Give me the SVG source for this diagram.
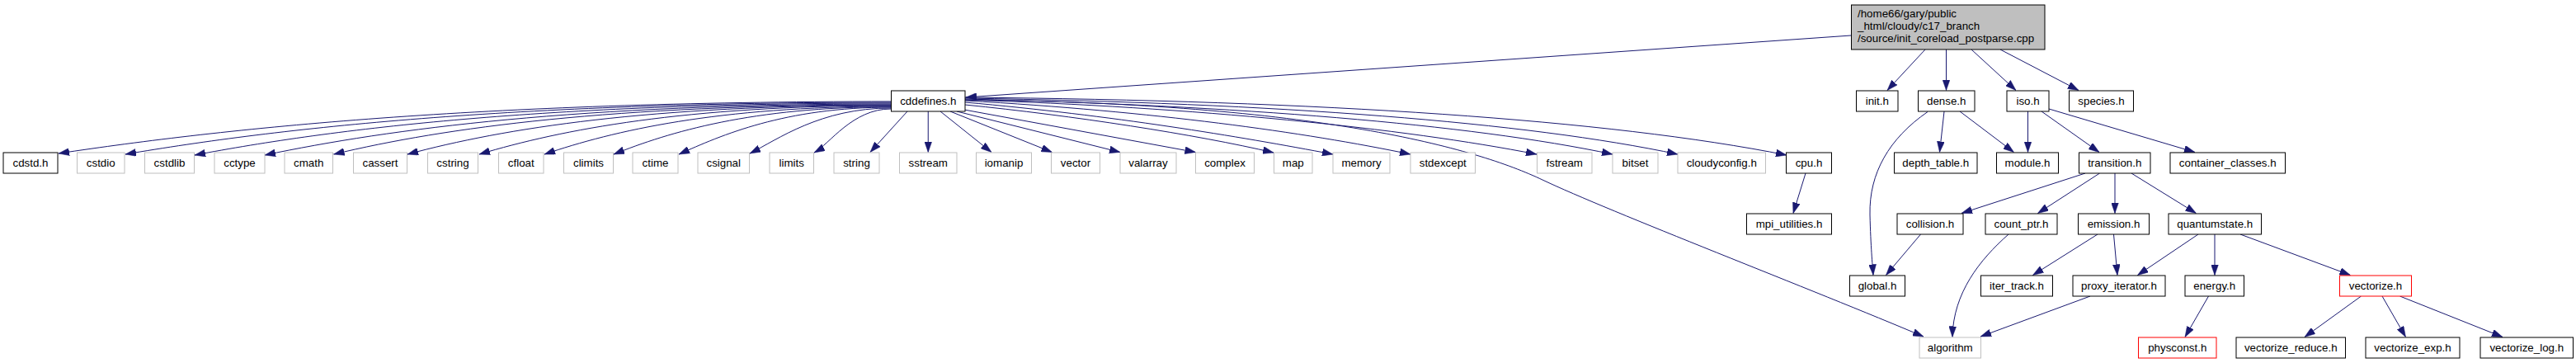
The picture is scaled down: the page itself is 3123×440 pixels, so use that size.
<svg xmlns="http://www.w3.org/2000/svg" width="3123" height="440" viewBox="0 0 3123 440">
<style>
rect{fill:#fff;stroke:#000;stroke-width:1}
.g rect{stroke:#bfbfbf}
.r rect{stroke:#ff0000}
.root rect{fill:#bfbfbf}
text{font-family:"Liberation Sans",Arial,sans-serif;font-size:13.33px;text-anchor:middle;fill:#000}
.root text{text-anchor:start}
#edges path{fill:none;stroke:#191970;stroke-width:1;marker-end:url(#a)}
</style>
<defs>
<marker id="a" markerUnits="userSpaceOnUse" viewBox="0 0 13 9" markerWidth="13" markerHeight="9" refX="13" refY="4.5" orient="auto">
<path d="M0,0 L13,4.5 L0,9 z" fill="#191970" stroke="#191970" stroke-width="0.5"/>
</marker>
</defs>
<rect x="0" y="0" width="3123" height="440" style="fill:#fff;stroke:none"/>
<g id="edges">
<path d="M2244,43 L1171,118"/>
<path d="M2334,60 L2288,109.5"/>
<path d="M2359.5,60 L2359.5,109.5"/>
<path d="M2390,60 L2444,109.5"/>
<path d="M2425,60 L2520,109.5"/>
<path d="M1080,123 C575.5,123 272.8,155.7 71,186"/>
<path d="M1080,124 C616,124 337.6,155.4 152,187"/>
<path d="M1080,125 C658,125 404.8,155.9 236,188"/>
<path d="M1080,126 C700.5,126 472.8,156.1 321,188"/>
<path d="M1080,127 C742,127 539.6,154.6 404.5,187"/>
<path d="M1080,127.5 C787,127.5 611.2,155.4 494,187"/>
<path d="M1080,128 C830.5,128 680.8,157.1 581,187"/>
<path d="M1080,129 C870,129 744,158.4 660,187"/>
<path d="M1080,129.5 C912,129.5 811.2,160.1 744,187"/>
<path d="M1080,130 C951.5,130 874.4,163.9 823,187"/>
<path d="M1080,131 C994.5,131 943.2,168.9 909,186"/>
<path d="M1080,132 C1033.5,132 1005.6,174.8 987,185"/>
<path d="M1100,135 L1055,184.5"/>
<path d="M1125.25,135 L1125.25,184.5"/>
<path d="M1140,135 L1202,184.5"/>
<path d="M1152,135 L1275.5,184.5"/>
<path d="M1160,135 L1358,184.5"/>
<path d="M1169,133 L1449.5,184.5"/>
<path d="M1170,127 C1300,140 1450,163 1544,185"/>
<path d="M1170,124 C1350,140 1500,165 1616,187"/>
<path d="M1170,122 C1400,135 1580,160 1710,187"/>
<path d="M1170,121 C1450,130 1700,155 1863,187"/>
<path d="M1170,120 C1500,128 1780,150 1955,187"/>
<path d="M1170,119 C1550,125 1850,148 2034,187"/>
<path d="M1170,118 C1600,122 1950,145 2166,188"/>
<path d="M1170,121 C1600,125 1790,180 1870,218 C1950,256 2200,352 2332,408"/>
<path d="M2357,135 L2351.5,184.5"/>
<path d="M2376,135 L2441.5,184.5"/>
<path d="M2337,135.5 C2290,168 2266,210 2267,260 C2268,300 2270,320 2271,333.5"/>
<path d="M2458.5,135 L2458.5,184.5"/>
<path d="M2475,135 L2545,184.5"/>
<path d="M2484,132 L2661,184.5"/>
<path d="M2189,210 L2174,258.5"/>
<path d="M2528,210 L2378,258.5"/>
<path d="M2545.5,210 L2470.5,258.5"/>
<path d="M2564,210 L2564,258.5"/>
<path d="M2584,210 L2662.5,258.5"/>
<path d="M2328.5,284 L2286.5,333.5"/>
<path d="M2435,284 C2400,315 2368,355 2367,408.5"/>
<path d="M2543,284 L2464.5,333.5"/>
<path d="M2562.5,284 L2567,333.5"/>
<path d="M2665,284 L2591.5,333.5"/>
<path d="M2685,284 L2685,333.5"/>
<path d="M2716,284 L2849.5,333.5"/>
<path d="M2534,359 L2401,408"/>
<path d="M2677.5,359 L2649,408.5"/>
<path d="M2862.5,359 L2794,408.5"/>
<path d="M2888,359 L2916.5,408.5"/>
<path d="M2909.5,359 L3034,408.5"/>
</g>
<g id="root" class="root"><rect x="2244.5" y="6" width="234.5" height="54"/><text x="2252" y="21">/home66/gary/public</text><text x="2252" y="36">_html/cloudy/c17_branch</text><text x="2252" y="51">/source/init_coreload_postparse.cpp</text></g>
<g id="cddefines"><rect x="1080.5" y="110" width="89.5" height="25"/><text x="1125.25" y="127">cddefines.h</text></g>
<g id="init"><rect x="2250.5" y="110" width="50.5" height="25"/><text x="2275.75" y="127">init.h</text></g>
<g id="dense"><rect x="2325.5" y="110" width="68.5" height="25"/><text x="2359.75" y="127">dense.h</text></g>
<g id="iso"><rect x="2433" y="110" width="51" height="25"/><text x="2458.5" y="127">iso.h</text></g>
<g id="species"><rect x="2508.5" y="110" width="78" height="25"/><text x="2547.5" y="127">species.h</text></g>
<g id="cdstd"><rect x="4" y="185" width="66" height="25"/><text x="37" y="202">cdstd.h</text></g>
<g id="cstdio" class="g"><rect x="93.5" y="185" width="57.5" height="25"/><text x="122.25" y="202">cstdio</text></g>
<g id="cstdlib" class="g"><rect x="175.5" y="185" width="60" height="25"/><text x="205.5" y="202">cstdlib</text></g>
<g id="cctype" class="g"><rect x="260" y="185" width="61" height="25"/><text x="290.5" y="202">cctype</text></g>
<g id="cmath" class="g"><rect x="345" y="185" width="58.5" height="25"/><text x="374.25" y="202">cmath</text></g>
<g id="cassert" class="g"><rect x="428.5" y="185" width="65" height="25"/><text x="461" y="202">cassert</text></g>
<g id="cstring" class="g"><rect x="518.5" y="185" width="61" height="25"/><text x="549" y="202">cstring</text></g>
<g id="cfloat" class="g"><rect x="604.5" y="185" width="54.5" height="25"/><text x="631.75" y="202">cfloat</text></g>
<g id="climits" class="g"><rect x="683.5" y="185" width="60" height="25"/><text x="713.5" y="202">climits</text></g>
<g id="ctime" class="g"><rect x="767" y="185" width="55" height="25"/><text x="794.5" y="202">ctime</text></g>
<g id="csignal" class="g"><rect x="846" y="185" width="62.5" height="25"/><text x="877.25" y="202">csignal</text></g>
<g id="limits" class="g"><rect x="933" y="185" width="53.5" height="25"/><text x="959.75" y="202">limits</text></g>
<g id="string" class="g"><rect x="1011" y="185" width="55" height="25"/><text x="1038.5" y="202">string</text></g>
<g id="sstream" class="g"><rect x="1090.5" y="185" width="69.5" height="25"/><text x="1125.25" y="202">sstream</text></g>
<g id="iomanip" class="g"><rect x="1183.5" y="185" width="67" height="25"/><text x="1217" y="202">iomanip</text></g>
<g id="vector" class="g"><rect x="1274.5" y="185" width="59" height="25"/><text x="1304" y="202">vector</text></g>
<g id="valarray" class="g"><rect x="1358" y="185" width="68" height="25"/><text x="1392" y="202">valarray</text></g>
<g id="complex" class="g"><rect x="1449.5" y="185" width="71" height="25"/><text x="1485" y="202">complex</text></g>
<g id="map" class="g"><rect x="1544.5" y="185" width="46.5" height="25"/><text x="1567.75" y="202">map</text></g>
<g id="memory" class="g"><rect x="1616" y="185" width="69" height="25"/><text x="1650.5" y="202">memory</text></g>
<g id="stdexcept" class="g"><rect x="1710" y="185" width="78.5" height="25"/><text x="1749.25" y="202">stdexcept</text></g>
<g id="fstream" class="g"><rect x="1863.5" y="185" width="66.5" height="25"/><text x="1896.75" y="202">fstream</text></g>
<g id="bitset" class="g"><rect x="1955" y="185" width="55" height="25"/><text x="1982.5" y="202">bitset</text></g>
<g id="cloudyconfig" class="g"><rect x="2034" y="185" width="106.5" height="25"/><text x="2087.25" y="202">cloudyconfig.h</text></g>
<g id="cpu"><rect x="2165.5" y="185" width="55" height="25"/><text x="2193" y="202">cpu.h</text></g>
<g id="depth_table"><rect x="2296.5" y="185" width="100.5" height="25"/><text x="2346.75" y="202">depth_table.h</text></g>
<g id="module"><rect x="2420.5" y="185" width="75" height="25"/><text x="2458" y="202">module.h</text></g>
<g id="transition"><rect x="2520.5" y="185" width="86.5" height="25"/><text x="2563.75" y="202">transition.h</text></g>
<g id="container_classes"><rect x="2631" y="185" width="139.5" height="25"/><text x="2700.75" y="202">container_classes.h</text></g>
<g id="mpi_utilities"><rect x="2117.5" y="259" width="103" height="25"/><text x="2169" y="276">mpi_utilities.h</text></g>
<g id="collision"><rect x="2300" y="259" width="80" height="25"/><text x="2340" y="276">collision.h</text></g>
<g id="count_ptr"><rect x="2407" y="259" width="87" height="25"/><text x="2450.5" y="276">count_ptr.h</text></g>
<g id="emission"><rect x="2519.5" y="259" width="86" height="25"/><text x="2562.5" y="276">emission.h</text></g>
<g id="quantumstate"><rect x="2629" y="259" width="112.5" height="25"/><text x="2685.25" y="276">quantumstate.h</text></g>
<g id="global"><rect x="2242.5" y="334" width="67" height="25"/><text x="2276" y="351">global.h</text></g>
<g id="iter_track"><rect x="2401.5" y="334" width="87" height="25"/><text x="2445" y="351">iter_track.h</text></g>
<g id="proxy_iterator"><rect x="2513" y="334" width="112" height="25"/><text x="2569" y="351">proxy_iterator.h</text></g>
<g id="energy"><rect x="2649" y="334" width="71.5" height="25"/><text x="2684.75" y="351">energy.h</text></g>
<g id="vectorize" class="r"><rect x="2836.5" y="334" width="87" height="25"/><text x="2880" y="351">vectorize.h</text></g>
<g id="algorithm" class="g"><rect x="2327" y="409" width="74.5" height="25"/><text x="2364.25" y="426">algorithm</text></g>
<g id="physconst" class="r"><rect x="2592.5" y="409" width="94.5" height="25"/><text x="2639.75" y="426">physconst.h</text></g>
<g id="vectorize_reduce"><rect x="2711" y="409" width="132.5" height="25"/><text x="2777.25" y="426">vectorize_reduce.h</text></g>
<g id="vectorize_exp"><rect x="2868" y="409" width="114" height="25"/><text x="2925" y="426">vectorize_exp.h</text></g>
<g id="vectorize_log"><rect x="3007" y="409" width="112.5" height="25"/><text x="3063.25" y="426">vectorize_log.h</text></g>
</svg>
